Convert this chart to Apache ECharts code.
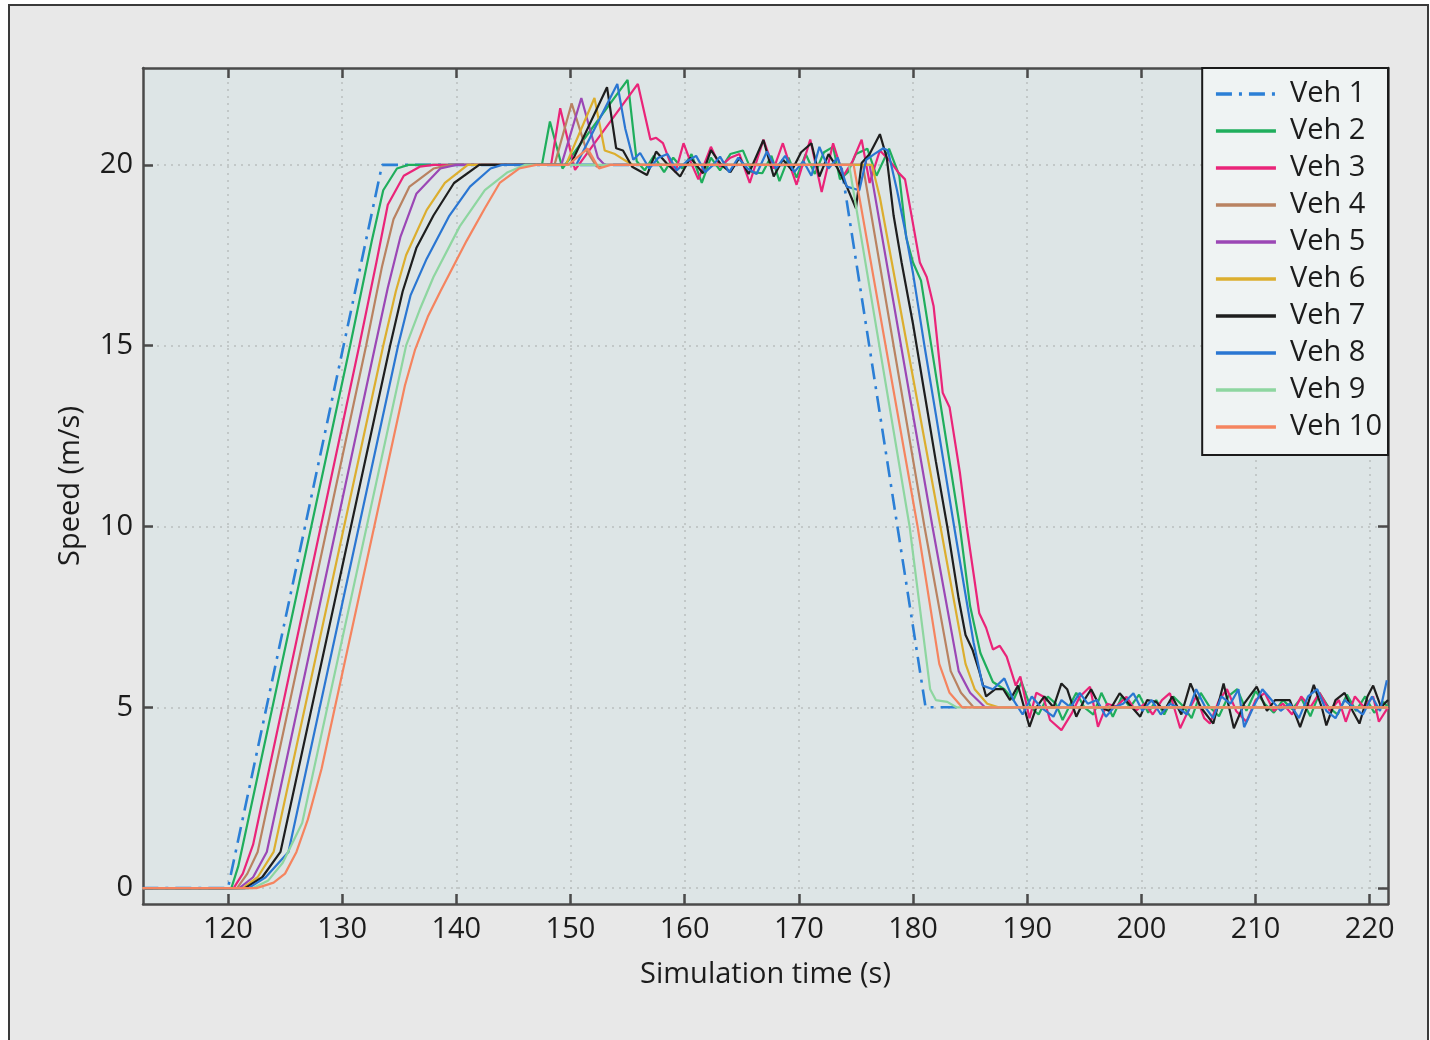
<!DOCTYPE html>
<html>
<head>
<meta charset="utf-8">
<script src="https://cdn.jsdelivr.net/npm/echarts@6/dist/echarts.min.js"></script>
<style>
html,body{margin:0;padding:0;background:#ffffff;width:1430px;height:1040px;overflow:hidden;}
#frame{position:absolute;left:8px;top:4px;width:1417px;height:1060px;border:2px solid #3a3a3a;background:#e8e8e8;}
#main{position:absolute;left:0;top:0;width:1430px;height:1040px;}
</style>
</head>
<body>
<div id="frame"></div>
<div id="main"></div>
<script>
// ---------- data (time s, speed m/s) ----------
const vehNames = ['Veh 1','Veh 2','Veh 3','Veh 4','Veh 5','Veh 6','Veh 7','Veh 8','Veh 9','Veh 10'];
const xTicks = [120,130,140,150,160,170,180,190,200,210,220];
const yTicks = [0,5,10,15,20];

const veh1 = [[112.5,0],[120,0],[133.5,20],[173.7,20],[181.1,5],[221.6,5]];

const veh2 = [[112.5,0],[120.3,0],[120.9,0.6],[130.7,15],[132.6,17.9],[133.6,19.3],[134.8,19.9],[135.8,20],[147.5,20],[148.2,21.2],[149.3,19.9],[155.0,22.35],[155.8,20.1],[156.5,19.85],[157.3,20.25],[158.2,19.8],[159.0,20.2],[159.8,19.9],[160.6,20.3],[161.5,19.5],[162.3,20.2],[163.1,19.85],[164.0,20.3],[165.1,20.4],[165.9,19.8],[166.8,19.77],[167.6,20.25],[168.3,19.55],[169.1,20.2],[169.8,19.65],[170.6,20.3],[171.4,19.75],[172.2,20.35],[173.0,20.5],[173.6,19.6],[174.3,19.8],[175.0,20.3],[176.0,20.45],[176.8,19.7],[177.9,20.45],[178.8,19.7],[179.4,18.0],[180.0,17.3],[180.7,16.8],[182.1,14.0],[184.1,10.0],[185.0,7.8],[185.9,6.5],[187.0,5.7],[188.0,5.5],[188.8,5.2],[189.5,5.7],[190.3,5.0],[191.0,4.8],[191.8,5.3],[192.5,5.1],[193.1,4.65],[193.8,5.1],[194.3,5.4],[195.0,5.0],[195.8,4.8],[196.5,5.4],[197.5,4.74],[198.3,5.3],[199.0,5.0],[199.8,5.35],[200.6,4.85],[201.3,5.2],[202.0,4.8],[202.8,5.3],[203.6,5.05],[204.4,4.7],[205.2,5.4],[206.0,5.0],[206.8,4.75],[207.6,5.3],[208.4,5.5],[209.2,4.9],[210.0,5.45],[210.8,5.1],[211.6,4.85],[212.4,5.2],[213.2,4.95],[214.0,5.25],[214.8,4.75],[215.6,5.4],[216.4,5.0],[217.2,4.8],[218.0,5.35],[218.8,4.9],[219.6,5.3],[220.4,4.85],[221.2,5.15],[221.6,5.0]];

const veh3 = [[112.5,0],[120.5,0],[121.3,0.4],[122.2,1.2],[131.5,15],[133.0,17.3],[134.0,18.9],[135.4,19.7],[136.8,19.95],[138,20],[148.3,20],[149.1,21.57],[150.4,19.86],[155.9,22.24],[157.0,20.7],[157.5,20.75],[158.1,20.6],[158.7,20.1],[159.2,19.8],[159.9,20.6],[160.5,20.1],[161.2,19.6],[162.3,20.5],[163.1,19.95],[164.0,20.2],[164.8,20.3],[165.7,19.5],[166.9,20.7],[167.8,19.9],[168.6,20.6],[169.2,20.0],[169.8,19.45],[171.0,20.7],[172.0,19.25],[173.0,20.6],[173.9,19.7],[174.7,20.1],[175.5,20.7],[176.2,19.5],[177.1,20.4],[178.0,20.1],[178.7,19.8],[179.3,19.6],[179.7,18.9],[180.6,17.3],[181.2,16.9],[181.8,16.1],[182.6,13.7],[183.2,13.3],[184.1,11.5],[184.7,10.0],[185.3,8.7],[185.8,7.6],[186.4,7.2],[187.0,6.6],[187.6,6.7],[188.2,6.4],[189.0,5.6],[189.4,5.85],[190.2,4.7],[190.8,5.4],[191.4,5.3],[192.0,4.65],[193.0,4.37],[193.9,4.83],[194.6,5.29],[195.5,5.57],[196.2,4.46],[197.0,5.1],[197.8,5.02],[198.7,5.29],[199.5,4.9],[200.3,5.1],[201.0,4.8],[201.8,5.2],[202.5,5.39],[203.4,4.42],[204.1,4.9],[204.8,5.3],[205.5,4.7],[206.0,4.55],[206.8,5.2],[207.5,5.5],[208.3,4.9],[209.2,4.6],[210.0,5.2],[210.8,5.4],[211.6,4.9],[212.4,5.1],[213.2,4.8],[214.0,5.3],[214.8,5.0],[215.6,5.4],[216.5,4.9],[217.3,5.2],[217.9,4.6],[218.7,5.3],[219.5,5.0],[220.3,5.3],[220.8,4.6],[221.6,5.0]];

const veh4 = [[112.5,0],[120.8,0],[121.7,0.4],[122.6,1.0],[132.1,15],[133.5,17.2],[134.5,18.5],[135.9,19.4],[138,19.9],[139.5,20],[148.6,20],[150.1,21.7],[151.4,20.4],[152.3,19.95],[153,20],[175.6,20],[181.0,10],[183.3,6.0],[184.2,5.4],[185.3,5.0],[221.6,5]];

const veh5 = [[112.5,0],[121.0,0],[122.2,0.3],[123.4,1.0],[132.9,15],[134.0,16.6],[135.1,18.0],[136.5,19.2],[138.6,19.9],[140,20],[149.2,20],[150.95,21.85],[152.4,20.2],[153.0,20],[176.2,20],[181.7,10],[184.0,6.0],[185.0,5.4],[186.3,5.0],[221.6,5]];

const veh6 = [[112.5,0],[121.3,0],[122.6,0.3],[124.0,1.0],[133.6,15],[134.7,16.5],[135.6,17.5],[137.4,18.75],[139,19.5],[141,20],[149.6,20],[152.1,21.85],[153.0,20.4],[153.9,20.3],[154.9,20.1],[155.5,20],[176.4,20],[177.1,19.1],[182.4,10],[184.6,6.2],[185.4,5.5],[186.5,5.1],[187.5,5.0],[221.6,5]];

const veh7 = [[112.5,0],[121.5,0],[123,0.3],[124.6,1.0],[134.2,15],[135.3,16.5],[136.5,17.7],[138,18.6],[139.8,19.5],[142,20],[150,20],[153.2,22.15],[154.0,20.46],[154.6,20.4],[155.4,19.95],[156.7,19.72],[157.5,20.37],[158.4,20.05],[159.6,19.68],[160.5,20.2],[161.6,19.77],[162.3,20.41],[163.2,20.0],[164.0,19.8],[164.8,20.2],[165.6,19.75],[166.9,20.69],[167.8,19.68],[168.6,20.15],[169.4,19.85],[170.2,20.35],[171.1,20.6],[171.8,19.68],[172.6,20.3],[173.4,19.9],[174.2,19.4],[175.0,18.8],[175.5,20.05],[176.2,20.3],[177.1,20.85],[177.7,20.2],[178.3,18.6],[179.0,17.3],[180.0,15.6],[181.0,13.7],[182.0,11.8],[183.0,10.0],[184.0,8.0],[184.6,7.0],[185.2,6.6],[185.8,6.0],[186.4,5.3],[187.2,5.5],[187.9,5.5],[188.5,5.2],[189.2,5.6],[190.2,4.46],[190.8,5.0],[191.5,5.3],[192.3,5.0],[193.0,5.66],[193.5,5.5],[194.3,4.74],[195.0,5.2],[195.6,5.5],[196.4,5.0],[197.2,4.9],[198.1,5.39],[198.9,5.1],[199.9,4.74],[200.5,5.2],[201.3,5.15],[202.0,4.9],[202.7,5.3],[203.5,4.8],[204.3,5.66],[205.2,5.0],[206.3,4.55],[207.2,5.66],[208.1,4.42],[209.0,5.1],[210.1,5.57],[211.0,4.9],[211.7,5.2],[213.0,5.2],[213.9,4.45],[214.5,5.0],[215.1,5.62],[215.8,5.0],[216.2,4.5],[217.0,5.2],[217.8,5.4],[218.5,4.9],[219.1,4.55],[219.8,5.3],[220.3,5.6],[221.0,5.0],[221.6,5.2]];

const veh8 = [[112.5,0],[121.8,0],[123.3,0.3],[125.3,1.0],[134.9,15],[136,16.4],[137.4,17.4],[139.4,18.6],[141.2,19.4],[143,19.9],[144,20],[150.5,20],[154.1,22.24],[154.8,21.0],[155.5,20.14],[156.1,20.33],[156.9,19.9],[157.7,20.2],[158.5,20.3],[159.3,19.85],[160.2,20.1],[161.0,20.25],[161.8,19.8],[162.5,20.0],[163.1,20.23],[163.9,19.8],[164.7,20.2],[165.5,19.9],[166.3,19.75],[167.2,20.37],[168.0,19.9],[168.8,20.25],[169.6,19.8],[170.4,20.1],[171.1,19.7],[171.8,20.5],[172.6,19.9],[173.4,20.2],[174.2,19.4],[175.3,19.3],[175.9,20.14],[176.6,20.3],[177.4,20.46],[177.8,20.4],[178.6,19.3],[179.3,18.2],[180.0,17.0],[181.0,15.0],[182.0,13.1],[183.6,10.0],[184.5,8.3],[185.3,6.8],[186.1,5.6],[187.0,5.5],[188.0,5.8],[188.8,5.2],[189.6,4.8],[190.4,5.3],[191.2,5.0],[192.3,4.74],[193.0,5.2],[193.8,5.0],[194.6,5.4],[195.3,5.1],[196.1,5.2],[196.9,4.74],[197.6,5.0],[198.4,5.1],[199.3,5.39],[200.1,4.9],[200.9,5.2],[201.7,4.8],[202.5,5.1],[203.2,5.0],[204.0,4.8],[204.8,5.5],[205.6,5.0],[206.3,4.7],[207.0,5.3],[207.8,5.1],[208.5,5.5],[209.0,4.45],[209.8,5.0],[210.6,5.5],[211.4,5.2],[212.2,4.9],[213.0,5.1],[213.8,4.7],[214.6,5.3],[215.4,5.5],[216.2,4.9],[217.0,4.7],[217.8,5.2],[218.6,5.0],[219.4,4.8],[220.2,5.3],[220.9,4.9],[221.5,5.75]];

const veh9 = [[112.5,0],[122.2,0],[123.5,0.2],[124.8,0.7],[126.5,1.8],[135.6,15],[136.8,16.0],[138,16.9],[140.3,18.3],[142.5,19.3],[144.5,19.8],[146,20],[174.4,20],[179.7,10],[181.5,5.5],[182.0,5.2],[183.0,5.15],[183.8,5.0],[221.6,5]];

const veh10 = [[112.5,0],[122.5,0],[124,0.15],[125,0.4],[126,1.0],[127,1.9],[128.2,3.3],[135.5,13.9],[136.4,14.9],[137.5,15.8],[138.6,16.5],[140.9,17.9],[142.5,18.8],[143.8,19.5],[145.5,19.9],[147,20],[149.8,20],[151.5,20.45],[152.5,19.9],[153.5,20],[174.8,20],[180.4,10],[182.3,6.2],[183.2,5.4],[184.3,5.0],[221.6,5]];

// ---------- styling ----------
const colors = ['#2b7fd6','#1fae5c','#ea2479','#b98261','#9b47b5','#dcae2e','#1e1e1e','#2a76d2','#8ed6a0','#f5845f'];
const FONT = 'Open Sans';
const TXT = '#1c1c1c';
const AX = '#4a4a4a';
const allData = [veh1,veh2,veh3,veh4,veh5,veh6,veh7,veh8,veh9,veh10];

const series = allData.map((d,i)=>({
  name: vehNames[i],
  type: 'line',
  data: d,
  symbol: 'none',
  showSymbol: false,
  clip: true,
  xAxisIndex: 0,
  yAxisIndex: 0,
  lineStyle: {color: colors[i], width: i===0 ? 2.6 : 2.2, type: i===0 ? [16,7,3,7] : 'solid'},
  itemStyle: {color: colors[i]},
  emphasis: {disabled: true}
}));

const xMin = 112.56, xMax = 221.6, yMin = -0.44, yMax = 22.68;

const chart = echarts.init(document.getElementById('main'), null, {renderer:'canvas'});
chart.setOption({
  animation: false,
  backgroundColor: 'transparent',
  grid: {left:143, right:42, top:68, bottom:136, show:true, backgroundColor:'#dde5e6', borderWidth:0},
  legend: {
    orient: 'vertical', right: 42, top: 68,
    data: vehNames,
    itemWidth: 60, itemHeight: 14, itemGap: 7,
    padding: [11,6,13,12],
    backgroundColor: '#eff3f3', borderColor: '#1a1a1a', borderWidth: 2,
    itemStyle: {opacity: 0},
    lineStyle: {width: 3.5},
    textStyle: {fontFamily: FONT, fontSize: 29, color: TXT, lineHeight: 30, padding:[0,0,0,9]},
    selectedMode: false
  },
  xAxis: [{
    type: 'value', position: 'bottom', min: xMin, max: xMax,
    name: 'Simulation time (s)', nameLocation: 'middle', nameGap: 56,
    nameTextStyle: {fontFamily: FONT, fontSize: 29, color: TXT},
    axisLine: {show: true, onZero: false, lineStyle: {color: AX, width: 2.5}},
    axisTick: {show: true, inside: true, length: 10, customValues: xTicks, lineStyle: {color: AX, width: 2.5}},
    axisLabel: {customValues: xTicks, fontFamily: FONT, fontSize: 29, color: TXT, margin: 11},
    splitLine: {show: true, lineStyle: {color: '#b9bebf', width: 1.5, type: [2,5]}}
  },{
    type: 'value', position: 'top', min: xMin, max: xMax,
    axisLine: {show: true, onZero: false, lineStyle: {color: AX, width: 2.5}},
    axisTick: {show: true, inside: true, length: 10, customValues: xTicks, lineStyle: {color: AX, width: 2.5}},
    axisLabel: {show: false},
    splitLine: {show: false}
  }],
  yAxis: [{
    type: 'value', position: 'left', min: yMin, max: yMax,
    name: 'Speed (m/s)', nameLocation: 'middle', nameGap: 58,
    nameTextStyle: {fontFamily: FONT, fontSize: 29, color: TXT},
    axisLine: {show: true, onZero: false, lineStyle: {color: AX, width: 2.5}},
    axisTick: {show: true, inside: true, length: 10, customValues: yTicks, lineStyle: {color: AX, width: 2.5}},
    axisLabel: {customValues: yTicks, fontFamily: FONT, fontSize: 29, color: TXT, margin: 10},
    splitLine: {show: true, lineStyle: {color: '#b9bebf', width: 1.5, type: [2,5]}}
  },{
    type: 'value', position: 'right', min: yMin, max: yMax,
    axisLine: {show: true, onZero: false, lineStyle: {color: AX, width: 2.5}},
    axisTick: {show: true, inside: true, length: 10, customValues: yTicks, lineStyle: {color: AX, width: 2.5}},
    axisLabel: {show: false},
    splitLine: {show: false}
  }],
  series: series
});
</script>
</body>
</html>
